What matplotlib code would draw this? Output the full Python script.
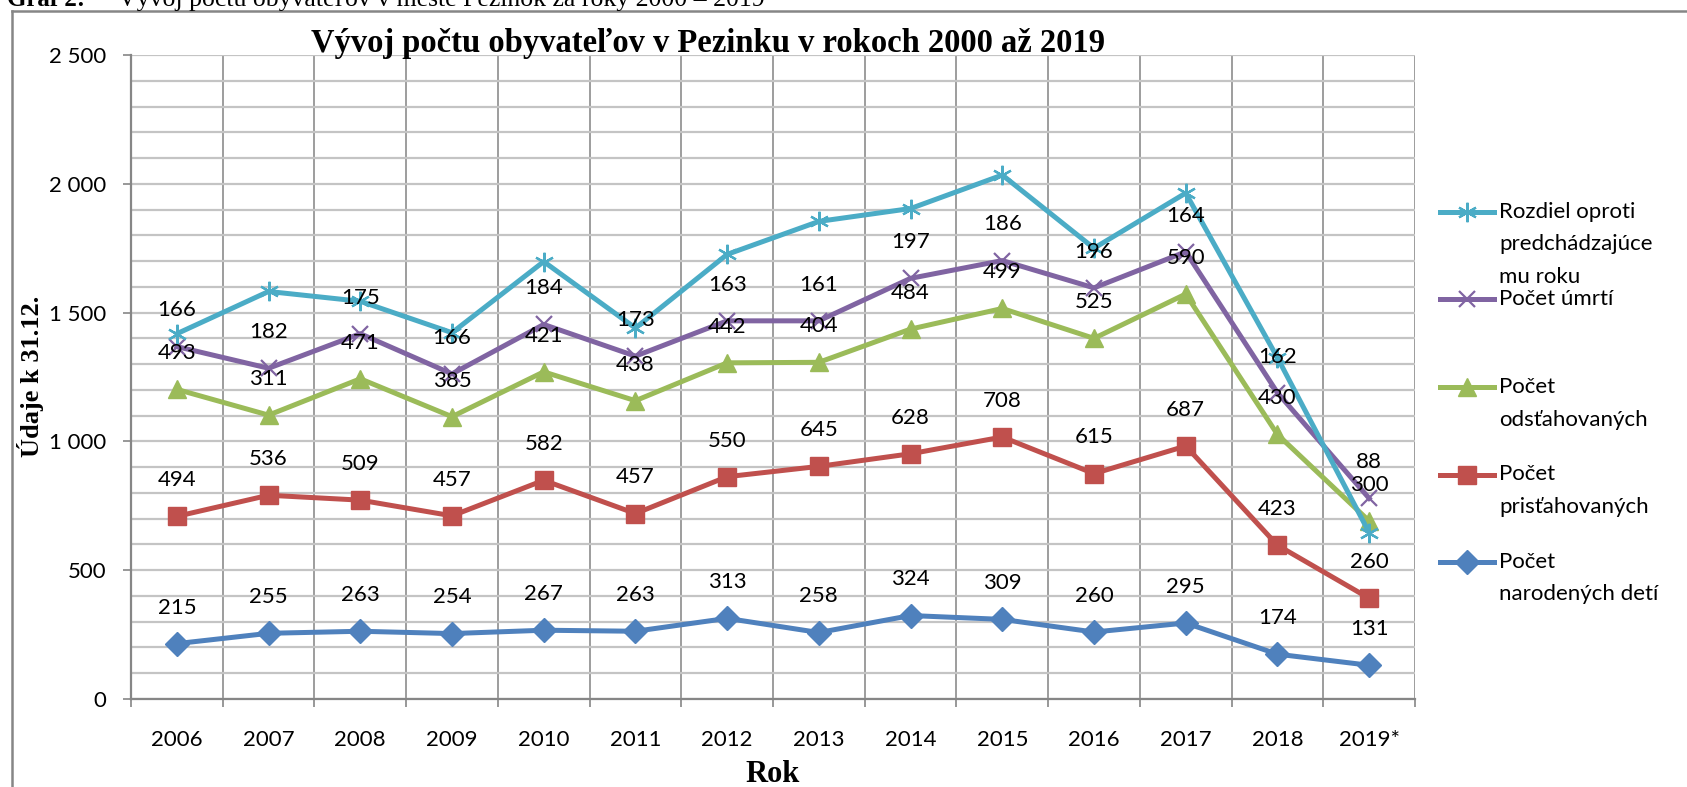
import matplotlib.pyplot as plt
import numpy as np
from matplotlib.lines import Line2D
from matplotlib.ticker import FuncFormatter, MultipleLocator

# Data (stacked line chart, values per year)
years = ['2006', '2007', '2008', '2009', '2010', '2011', '2012', '2013',
         '2014', '2015', '2016', '2017', '2018', '2019*']
narodeni = [215, 255, 263, 254, 267, 263, 313, 258, 324, 309, 260, 295, 174, 131]
pristahovani = [494, 536, 509, 457, 582, 457, 550, 645, 628, 708, 615, 687, 423, 260]
odstahovani = [493, 311, 471, 385, 421, 438, 442, 404, 484, 499, 525, 590, 430, 300]
umrtia = [166, 182, 175, 166, 184, 173, 163, 161, 197, 186, 196, 164, 162, 88]
rozdiel = [50, 298, 126, 160, 244, 109, 258, 386, 271, 332, 154, 228, 136, -133]

names = ['Počet\nnarodených detí', 'Počet\nprisťahovaných', 'Počet\nodsťahovaných',
         'Počet úmrtí', 'Rozdiel oproti\npredchádzajúce\nmu roku']
colors = ['#4F81BD', '#C0504D', '#9BBB59', '#8064A2', '#4BACC6']
markers = ['D', 's', '^', 'x', (6, 2, 0)]
msizes = [12, 13, 13, 12, 14]
series = [narodeni, pristahovani, odstahovani, umrtia, rozdiel]

W, H = 1687, 787
fig = plt.figure(figsize=(W / 100, H / 100), dpi=100)
ax = fig.add_axes([131 / W, 1 - 699 / H, (1415 - 131) / W, (699 - 55) / H])

lab_font = 'Lato'
x = np.arange(len(years))
stacked = np.cumsum(np.array(series), axis=0)

for i, (vals, top) in enumerate(zip(series, stacked)):
    ax.plot(x, top, color=colors[i], lw=3.6, marker=markers[i], ms=msizes[i],
            mew=1.6 if i >= 3 else 1, mec=colors[i], zorder=3 + i)
    if i < 4:
        for xi, yi, v in zip(x, top, vals):
            ax.annotate(str(v), (xi, yi), xytext=(0, 26), textcoords='offset points',
                        ha='center', va='center', fontsize=16, family=lab_font, zorder=10)

ax.set_xlim(-0.5, len(years) - 0.5)
ax.set_ylim(0, 2500)
ax.set_xticks(x)
ax.set_xticklabels(years, fontsize=16, family=lab_font)
ax.set_xticks(np.arange(-0.5, len(years)), minor=True)
ax.tick_params(axis='x', which='major', length=0, pad=22)
ax.tick_params(axis='x', which='minor', length=6, width=1.2, color='#868686')
ax.yaxis.set_major_locator(MultipleLocator(500))
ax.yaxis.set_minor_locator(MultipleLocator(100))
ax.yaxis.set_major_formatter(FuncFormatter(lambda v, p: f'{int(v):,}'.replace(',', ' ')))
ax.tick_params(axis='y', which='major', length=6, width=1.2, color='#868686', pad=12, labelsize=16)
ax.tick_params(axis='y', which='minor', length=0)
for t in ax.get_yticklabels():
    t.set_family(lab_font)

ax.grid(True, axis='y', which='both', color='#C4C4C4', lw=1.6, zorder=0)
ax.grid(True, axis='x', which='minor', color='#8C8C8C', lw=1.2, zorder=0)
ax.set_axisbelow(True)
for s in ['top', 'right']:
    ax.spines[s].set_visible(False)
for s in ['left', 'bottom']:
    ax.spines[s].set_color('#868686')
    ax.spines[s].set_linewidth(1.6)

serif = 'Liberation Serif'
fig.text(708 / W, 1 - 52 / H, 'Vývoj počtu obyvateľov v Pezinku v rokoch 2000 až 2019',
         ha='center', va='baseline', fontsize=23.5, fontweight='bold', family=serif)
fig.text(773 / W, 1 - 782 / H, 'Rok', ha='center', va='baseline', fontsize=22,
         fontweight='bold', family=serif)
fig.text(31 / W, 1 - 376 / H, 'Údaje k 31.12.', ha='center', va='center', rotation=90,
         fontsize=19, fontweight='bold', family=serif)

# header of the page, cut at the top
fig.text(7 / W, 1 - 6 / H, 'Graf 2:', ha='left', va='baseline', fontsize=18,
         fontweight='bold', family=serif)
fig.text(118 / W, 1 - 6 / H, 'Vývoj počtu obyvateľov v meste Pezinok za roky 2000 – 2019',
         ha='left', va='baseline', fontsize=18.5, family=serif)

# chart frame
fig.add_artist(Line2D([12 / W, 12 / W], [0, 1 - 11 / H], transform=fig.transFigure,
                      color='#868686', lw=1.8))
fig.add_artist(Line2D([12 / W, 1], [1 - 11 / H, 1 - 11 / H], transform=fig.transFigure,
                      color='#868686', lw=1.8))

# legend, top entry first
for k, i in enumerate(range(4, -1, -1)):
    yc = 1 - (212 + 87.5 * k) / H
    fig.add_artist(Line2D([1440 / W, 1494 / W], [yc, yc], transform=fig.transFigure,
                          color=colors[i], lw=3.6))
    fig.add_artist(Line2D([1467 / W], [yc], transform=fig.transFigure, color=colors[i],
                          marker=markers[i], ms=msizes[i], mew=1.6 if i >= 3 else 1,
                          mec=colors[i]))
    for j, line in enumerate(names[i].split('\n')):
        fig.text(1499 / W, yc - j * 32.5 / H, line, ha='left', va='center',
                 fontsize=16, family=lab_font)

fig.savefig('out.png', dpi=100)
